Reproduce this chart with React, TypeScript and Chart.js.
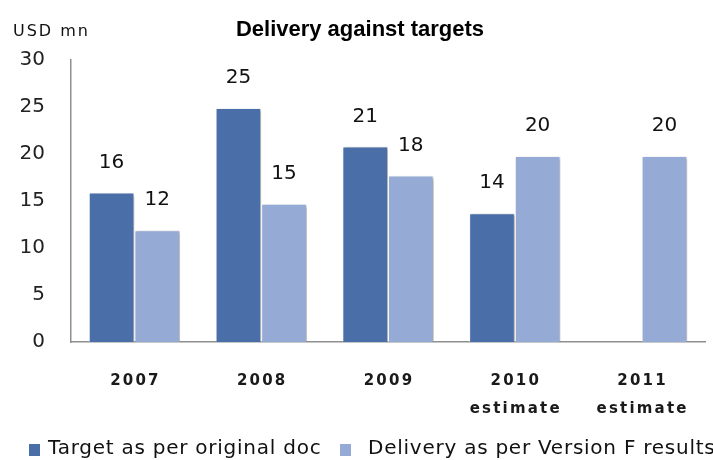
import React, { useEffect, useRef } from "react";
import { Chart, registerables } from "chart.js";

Chart.register(...registerables);

const categories: string[][] = [["2007"], ["2008"], ["2009"], ["2010", "estimate"], ["2011", "estimate"]];
const targetValues: (number | null)[] = [15.9, 24.9, 20.8, 13.7, null];
const deliveryValues: (number | null)[] = [11.9, 14.7, 17.7, 19.8, 19.8];
const seriesNames = ["Target as per original doc", "Delivery as per Version F results"];
const seriesColors = ["#4A6EA8", "#96AAD6"];
const yMin = 0;
const yMax = 30;
const yStep = 5;
const chartTitle = "Delivery against targets";
const unitLabel = "USD mn";

const W = 713;
const H = 460;

export default function App() {
  const ref = useRef<HTMLCanvasElement | null>(null);

  useEffect(() => {
    document.body.style.margin = "0";
    const canvas = ref.current;
    if (!canvas) return;

    const shadowPlugin = {
      id: "barShadow",
      beforeDatasetsDraw(chart: any) {
        const ctx = chart.ctx;
        ctx.save();
        ctx.shadowColor = "rgba(0,0,0,0.35)";
        ctx.shadowBlur = 3;
        ctx.shadowOffsetX = 2;
        ctx.shadowOffsetY = 1;
      },
      afterDatasetsDraw(chart: any) {
        chart.ctx.restore();
      },
    };

    const textPlugin = {
      id: "texts",
      afterDraw(chart: any) {
        const ctx = chart.ctx as CanvasRenderingContext2D;
        const area = chart.chartArea;
        const xScale = chart.scales.x;
        ctx.save();
        (ctx as any).letterSpacing = "0px";

        // title
        ctx.fillStyle = "#000";
        ctx.font = "bold 22px 'Liberation Sans', Arial, sans-serif";
        ctx.textAlign = "center";
        ctx.textBaseline = "middle";
        ctx.fillText(chartTitle, 360, 30);

        // unit label
        ctx.font = "16px 'DejaVu Sans', sans-serif";
        (ctx as any).letterSpacing = "2px";
        ctx.textAlign = "left";
        ctx.fillStyle = "#111";
        ctx.fillText(unitLabel, 13, 32);

        // x category labels
        ctx.font = "bold 15px 'DejaVu Sans', sans-serif";
        (ctx as any).letterSpacing = "2.2px";
        ctx.textAlign = "center";
        ctx.fillStyle = "#1a1a1a";
        categories.forEach((lines, i) => {
          const x = xScale.getPixelForValue(i) + 1;
          lines.forEach((ln, k) => {
            ctx.fillText(ln, x, area.bottom + 39 + k * 28);
          });
        });

        // data labels
        ctx.font = "20px 'DejaVu Sans', sans-serif";
        (ctx as any).letterSpacing = "0px";
        ctx.fillStyle = "#111";
        chart.data.datasets.forEach((ds: any, di: number) => {
          const meta = chart.getDatasetMeta(di);
          meta.data.forEach((el: any, j: number) => {
            const v = ds.data[j];
            if (v === null || v === undefined) return;
            ctx.fillText(String(Math.round(v)), el.x, el.y - 30);
          });
        });

        // legend
        const legendItems = [
          { marker: 29, text: 48 },
          { marker: 340, text: 368 },
        ];
        ctx.font = "20px 'DejaVu Sans', sans-serif";
        (ctx as any).letterSpacing = "0.75px";
        ctx.textAlign = "left";
        ctx.textBaseline = "middle";
        seriesNames.forEach((name, i) => {
          const it = legendItems[i];
          ctx.fillStyle = seriesColors[i];
          ctx.fillRect(it.marker, 444, 11, 12);
          ctx.fillStyle = "#111";
          ctx.fillText(name, it.text, 449);
        });
        ctx.restore();
      },
    };

    const chart = new Chart(canvas, {
      type: "bar",
      data: {
        labels: categories.map((c) => c.join(" ")),
        datasets: [
          {
            label: seriesNames[0],
            data: targetValues,
            backgroundColor: seriesColors[0],
            borderColor: "rgba(255,255,255,0.45)",
            borderWidth: 1,
            categoryPercentage: 0.72,
            barPercentage: 1,
          },
          {
            label: seriesNames[1],
            data: deliveryValues,
            backgroundColor: seriesColors[1],
            borderColor: "rgba(255,255,255,0.45)",
            borderWidth: 1,
            categoryPercentage: 0.72,
            barPercentage: 1,
          },
        ],
      },
      options: {
        responsive: false,
        animation: false,
        devicePixelRatio: 1,
        layout: { padding: { top: 60, right: 8, left: 0, bottom: 0 } },
        plugins: {
          legend: { display: false },
          title: { display: false },
          tooltip: { enabled: false },
        },
        scales: {
          x: {
            grid: { display: false, drawTicks: false },
            border: { display: true, color: "#8f8f8f", width: 1.5 },
            ticks: { display: false },
            afterFit(s: any) {
              s.height = 118;
            },
          },
          y: {
            min: yMin,
            max: yMax,
            grid: { display: false, drawTicks: false },
            border: { display: true, color: "#8f8f8f", width: 1.5 },
            ticks: {
              stepSize: yStep,
              padding: 26,
              color: "#222",
              font: { family: "'DejaVu Sans', sans-serif", size: 20 },
            },
            afterFit(s: any) {
              s.width = 71;
            },
          },
        },
      },
      plugins: [shadowPlugin, textPlugin],
    } as any);

    return () => chart.destroy();
  }, []);

  return (
    <div style={{ width: W, height: H, background: "#fff" }}>
      <canvas ref={ref} width={W} height={H} style={{ display: "block" }} />
    </div>
  );
}
